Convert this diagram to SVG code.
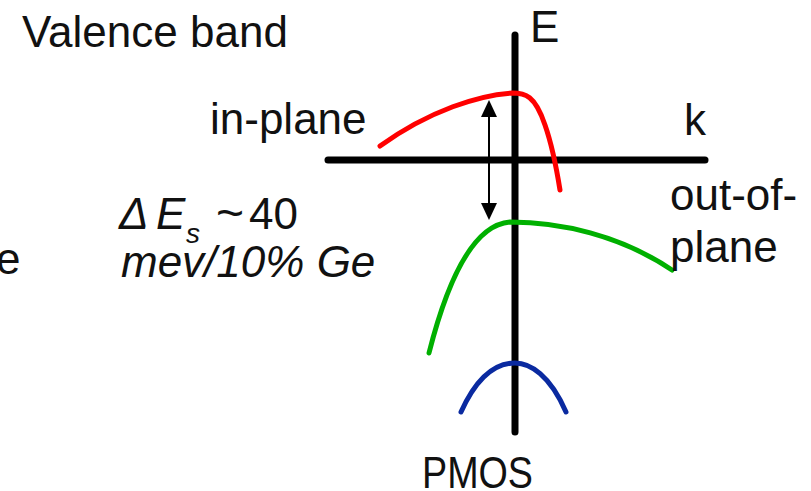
<svg xmlns="http://www.w3.org/2000/svg" width="811" height="491" viewBox="0 0 811 491">
<style>
text{font-family:"Liberation Sans",Arial,sans-serif;font-size:44px;fill:#111}
.it{font-style:italic}
.axis{stroke:#000;stroke-width:7;stroke-linecap:round;fill:none}
.band{fill:none;stroke-width:5;stroke-linecap:round}
</style>
<rect width="811" height="491" fill="#fff"/>
<g id="axes">
<line class="axis" x1="515" y1="35" x2="515" y2="432"/>
<line class="axis" x1="328" y1="160" x2="705" y2="160"/>
</g>
<g id="bands">
<path class="band" stroke="#ff0000" d="M380,146 C430,110 480,95 512,93 C525,93 535,95 545,125 C552,145 556,165 560,190"/>
<path class="band" stroke="#00b000" d="M429,353 C445,290 470,225 510,222 C560,222 620,235 672,270"/>
<path class="band" stroke="#0a2aa0" d="M461,412 C480,370 500,363 515,363 C530,363 550,375 566,412"/>
</g>
<g id="connectors">
<line x1="489" y1="115" x2="489" y2="205" stroke="#000" stroke-width="2"/>
<path d="M489,100 L481,117 L497,117 z" fill="#000"/>
<path d="M489,220 L481,203 L497,203 z" fill="#000"/>
</g>
<g id="labels">
<text x="22" y="47">Valence band</text>
<text x="530" y="42" font-size="40">E</text>
<text x="210" y="134">in-plane</text>
<text x="684" y="135">k</text>
<text x="670" y="210">out-of-</text>
<text x="670" y="262">plane</text>
<text y="229"><tspan class="it" x="119">Δ</tspan><tspan class="it" x="156">E</tspan><tspan class="it" x="186" y="243" font-size="28">s</tspan><tspan x="216" y="229" font-size="48">~</tspan><tspan x="249">40</tspan></text>
<text class="it" x="121" y="277">mev/10% Ge</text>
<text x="-4" y="274">e</text>
<text x="422" y="488" font-size="38" textLength="111" lengthAdjust="spacingAndGlyphs">PMOS</text>
</g>
</svg>
